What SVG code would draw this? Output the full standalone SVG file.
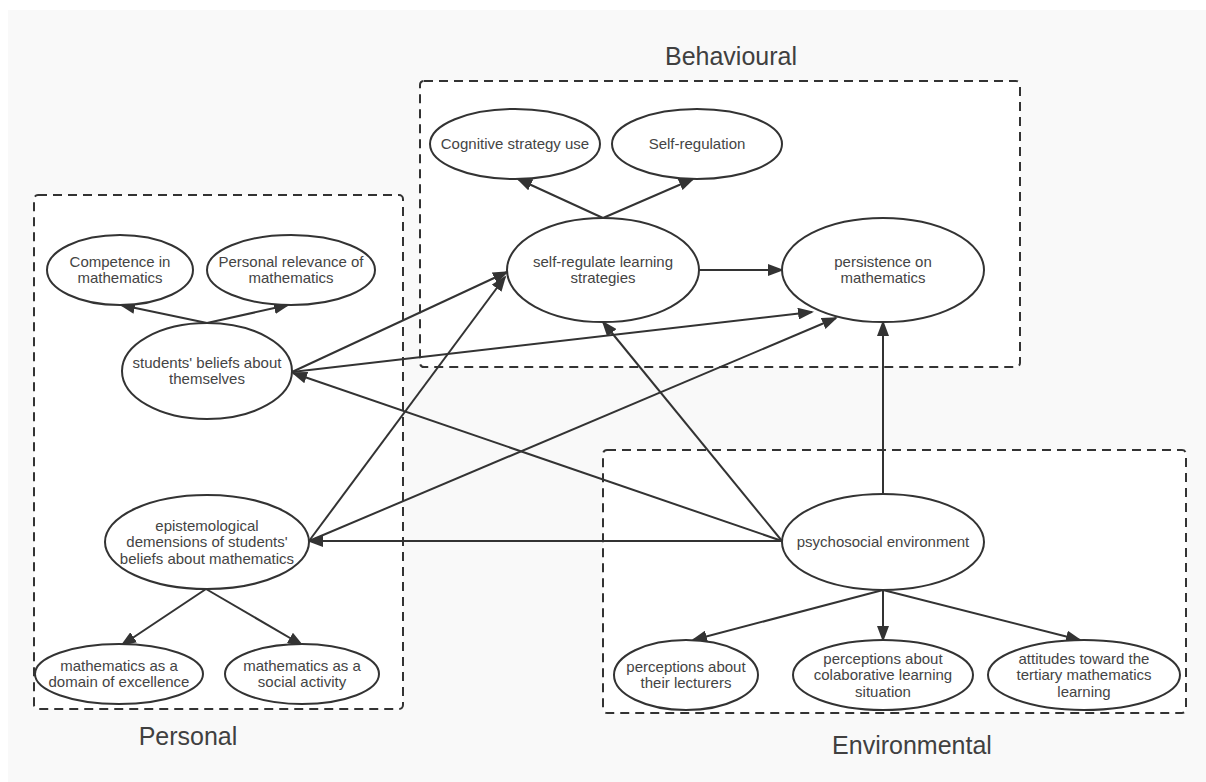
<svg xmlns="http://www.w3.org/2000/svg" width="1206" height="782" viewBox="0 0 1206 782">
<style>
.box{fill:#ffffff;stroke:#333333;stroke-width:2;stroke-dasharray:9 6}
.node ellipse{fill:#ffffff;stroke:#333333;stroke-width:2}
.node text{font-family:"Liberation Sans",Arial,sans-serif;font-size:15px;fill:#444444;text-anchor:middle}
.lbl{font-family:"Liberation Sans",Arial,sans-serif;font-size:25px;fill:#404040;text-anchor:middle}
#connectors line{stroke:#333333;stroke-width:2;marker-end:url(#arr)}
</style>
<defs>
<marker id="arr" markerUnits="userSpaceOnUse" markerWidth="16" markerHeight="12" refX="14" refY="6" orient="auto">
<path d="M0,0 L16,6 L0,12 z" fill="#333333"/>
</marker>
</defs>
<rect x="0" y="0" width="1206" height="782" fill="#ffffff"/>
<rect x="8" y="10" width="1198" height="772" fill="#f9f9f9"/>

<g id="groups">
<rect class="box" x="420" y="81" width="600" height="286" rx="4"/>
<rect class="box" x="34" y="195" width="369" height="514" rx="4"/>
<rect class="box" x="603" y="450" width="583" height="263" rx="4"/>
<text class="lbl" x="731" y="65">Behavioural</text>
<text class="lbl" x="188" y="745">Personal</text>
<text class="lbl" x="912" y="754">Environmental</text>
</g>

<g id="connectors">
<line x1="207" y1="323" x2="121" y2="305"/>
<line x1="207" y1="323" x2="288" y2="305"/>
<line x1="292" y1="372" x2="507" y2="272"/>
<line x1="292" y1="372" x2="812" y2="312"/>
<line x1="782" y1="541" x2="293" y2="373"/>
<line x1="309" y1="541" x2="505" y2="277"/>
<line x1="309" y1="541" x2="836" y2="318"/>
<line x1="782" y1="541" x2="309" y2="541"/>
<line x1="782" y1="541" x2="603" y2="322"/>
<line x1="883" y1="493" x2="883" y2="322"/>
<line x1="699" y1="270" x2="782" y2="270"/>
<line x1="603" y1="218" x2="518" y2="179"/>
<line x1="603" y1="218" x2="693" y2="179"/>
<line x1="206" y1="589" x2="122" y2="645"/>
<line x1="206" y1="589" x2="302" y2="645"/>
<line x1="883" y1="590" x2="693" y2="640"/>
<line x1="883" y1="590" x2="883" y2="640"/>
<line x1="883" y1="590" x2="1080" y2="640"/>
</g>

<g id="cognitive" class="node">
<ellipse cx="515" cy="144" rx="85" ry="35"/>
<text x="515" y="149">Cognitive strategy use</text>
</g>
<g id="selfregulation" class="node">
<ellipse cx="697" cy="144" rx="85" ry="35"/>
<text x="697" y="149">Self-regulation</text>
</g>
<g id="srl" class="node">
<ellipse cx="603" cy="270" rx="96" ry="52"/>
<text x="603" y="266.75">self-regulate learning</text>
<text x="603" y="283.25">strategies</text>
</g>
<g id="persistence" class="node">
<ellipse cx="883" cy="270" rx="101" ry="52"/>
<text x="883" y="266.75">persistence on</text>
<text x="883" y="283.25">mathematics</text>
</g>
<g id="competence" class="node">
<ellipse cx="120" cy="270" rx="73" ry="35"/>
<text x="120" y="266.75">Competence in</text>
<text x="120" y="283.25">mathematics</text>
</g>
<g id="relevance" class="node">
<ellipse cx="291" cy="270" rx="84" ry="35"/>
<text x="291" y="266.75">Personal relevance of</text>
<text x="291" y="283.25">mathematics</text>
</g>
<g id="beliefs" class="node">
<ellipse cx="207" cy="371" rx="85" ry="48"/>
<text x="207" y="367.75">students' beliefs about</text>
<text x="207" y="384.25">themselves</text>
</g>
<g id="epistemological" class="node">
<ellipse cx="207" cy="542" rx="102" ry="47"/>
<text x="207" y="530.5">epistemological</text>
<text x="207" y="547">demensions of students'</text>
<text x="207" y="563.5">beliefs about mathematics</text>
</g>
<g id="domain" class="node">
<ellipse cx="119" cy="674" rx="84" ry="30"/>
<text x="119" y="670.75">mathematics as a</text>
<text x="119" y="687.25">domain of excellence</text>
</g>
<g id="social" class="node">
<ellipse cx="302" cy="674" rx="77" ry="30"/>
<text x="302" y="670.75">mathematics as a</text>
<text x="302" y="687.25">social activity</text>
</g>
<g id="psychosocial" class="node">
<ellipse cx="883" cy="542" rx="101" ry="48"/>
<text x="883" y="547">psychosocial environment</text>
</g>
<g id="lecturers" class="node">
<ellipse cx="686" cy="675" rx="72" ry="35"/>
<text x="686" y="671.75">perceptions about</text>
<text x="686" y="688.25">their lecturers</text>
</g>
<g id="colaborative" class="node">
<ellipse cx="883" cy="675" rx="90" ry="35"/>
<text x="883" y="663.5">perceptions about</text>
<text x="883" y="680">colaborative learning</text>
<text x="883" y="696.5">situation</text>
</g>
<g id="attitudes" class="node">
<ellipse cx="1084" cy="675" rx="96" ry="35"/>
<text x="1084" y="663.5">attitudes toward the</text>
<text x="1084" y="680">tertiary mathematics</text>
<text x="1084" y="696.5">learning</text>
</g>
</svg>
